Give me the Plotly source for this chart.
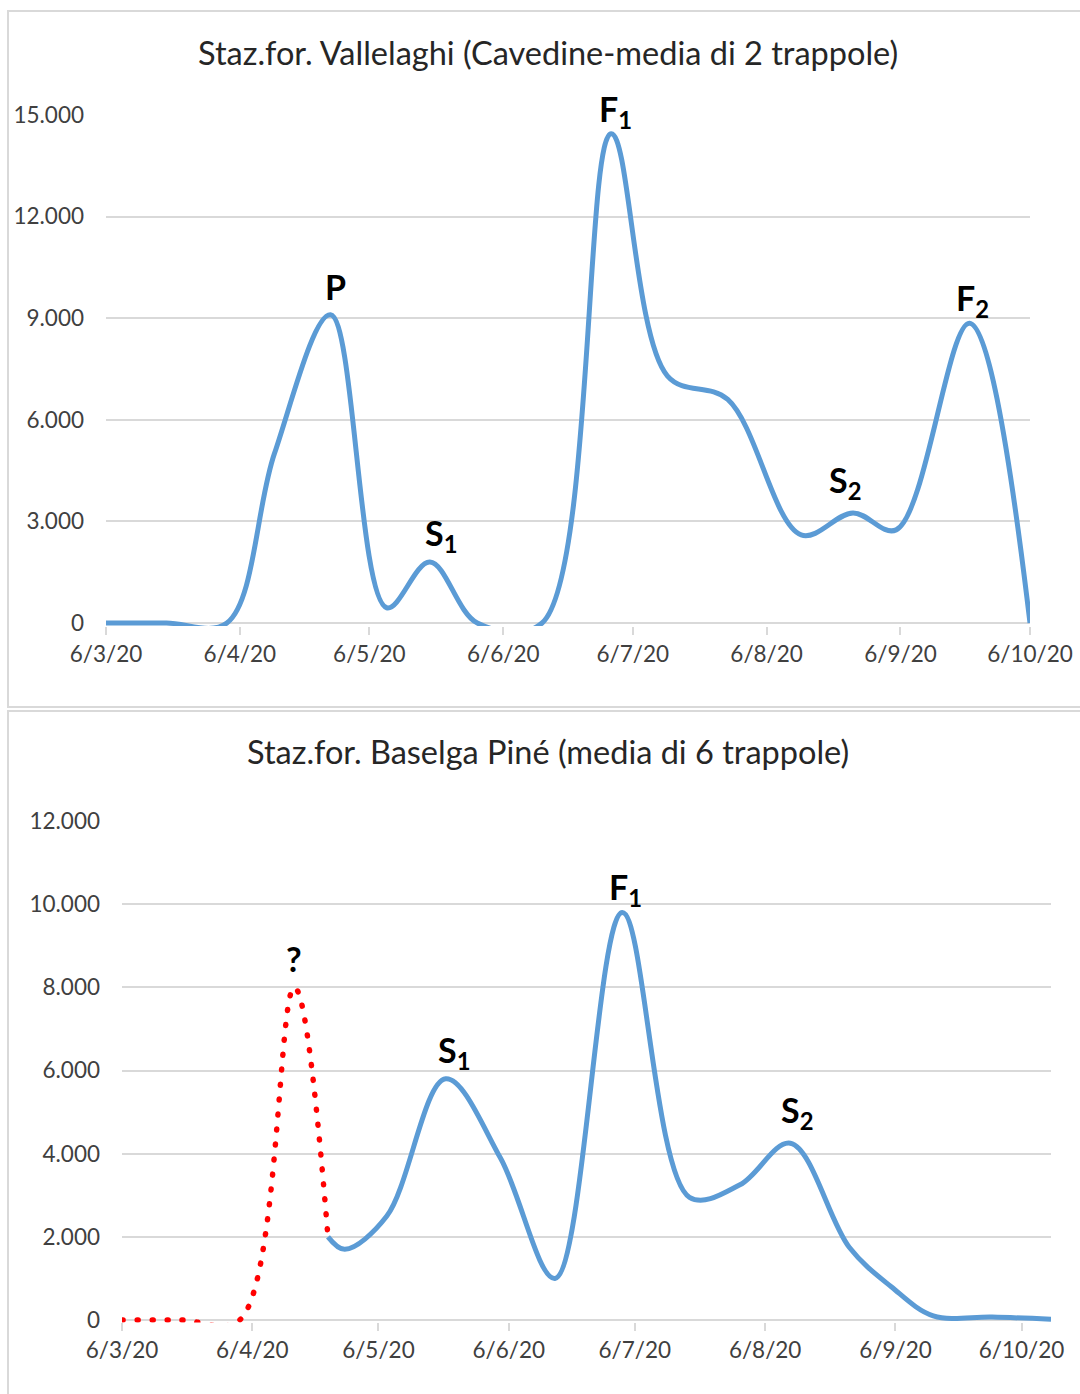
import plotly.graph_objects as go

W, H = 1080, 1394

# ---------------- data ----------------
# Top: Staz.for. Vallelaghi
top_title = "Staz.for. Vallelaghi (Cavedine-media di 2 trappole)"
top_dates = ["2020-03-06", "2020-03-20", "2020-04-03", "2020-04-14", "2020-04-27",
             "2020-05-10", "2020-05-20", "2020-05-31", "2020-06-15", "2020-07-01",
             "2020-07-14", "2020-07-28", "2020-08-14", "2020-08-26", "2020-09-05",
             "2020-09-22", "2020-10-06"]
top_values = [0, 0, 0, 5000, 9100,
              450, 1800, 0, 0, 14450,
              7300, 6600, 2600, 3250, 2750,
              8850, 0]

# Bottom: Staz.for. Baselga Piné
bot_title = "Staz.for. Baselga Piné (media di 6 trappole)"
bot_red_dates = ["2020-03-06", "2020-03-20", "2020-04-03", "2020-04-16", "2020-04-24"]
bot_red_values = [0, 0, 0, 8000, 2000]
bot_blue_dates = ["2020-04-24", "2020-04-28", "2020-05-08", "2020-05-22", "2020-06-04",
                  "2020-06-17", "2020-07-03", "2020-07-19", "2020-07-31", "2020-08-12",
                  "2020-08-26", "2020-09-05", "2020-09-15", "2020-09-29", "2020-10-13"]
bot_blue_values = [2000, 1700, 2500, 5800, 3900,
                   1000, 9800, 2950, 3250, 4250,
                   1750, 800, 100, 70, 20]

# axis ticks
x_tick_dates = ["2020-03-06", "2020-04-06", "2020-05-06", "2020-06-06",
                "2020-07-06", "2020-08-06", "2020-09-06", "2020-10-06"]
x_tick_labels = ["6/3/20", "6/4/20", "6/5/20", "6/6/20",
                 "6/7/20", "6/8/20", "6/9/20", "6/10/20"]
top_y_ticks = [0, 3000, 6000, 9000, 12000, 15000]
top_y_labels = ["0", "3.000", "6.000", "9.000", "12.000", "15.000"]
bot_y_ticks = [0, 2000, 4000, 6000, 8000, 10000, 12000]
bot_y_labels = ["0", "2.000", "4.000", "6.000", "8.000", "10.000", "12.000"]

# peak labels: (text, date, value)
top_labels = [("P", "2020-04-27", 9100), ("S<sub>1</sub>", "2020-05-20", 1800),
              ("F<sub>1</sub>", "2020-07-01", 14450), ("S<sub>2</sub>", "2020-08-26", 3250),
              ("F<sub>2</sub>", "2020-09-22", 8850)]
bot_labels = [("?", "2020-04-16", 8000), ("S<sub>1</sub>", "2020-05-22", 5800),
              ("F<sub>1</sub>", "2020-07-03", 9800), ("S<sub>2</sub>", "2020-08-12", 4250)]

# ---------------- styling ----------------
FONT = "Lato"
BLUE = "#5b9bd5"
RED = "#ff0000"
GRID = "#d9d9d9"
TXT = "#404040"
# label offsets in pixels (xshift, yshift)
top_label_off = [(5, 6), (11, 2), (4, -2), (-8, 6), (3, -2)]
bot_label_off = [(0, 6), (8, 2), (3, -2), (7, 6)]

fig = go.Figure()

fig.add_trace(go.Scatter(x=top_dates, y=top_values, mode="lines",
                         line=dict(color=BLUE, width=5, shape="spline", smoothing=1.0),
                         xaxis="x", yaxis="y", showlegend=False, hoverinfo="skip"))
fig.add_trace(go.Scatter(x=bot_red_dates, y=bot_red_values, mode="lines",
                         line=dict(color=RED, width=5.5, shape="spline", smoothing=1.0,
                                   dash="1px,14px"),
                         xaxis="x2", yaxis="y2", showlegend=False, hoverinfo="skip"))
fig.add_trace(go.Scatter(x=bot_blue_dates, y=bot_blue_values, mode="lines",
                         line=dict(color=BLUE, width=5, shape="spline", smoothing=1.0),
                         xaxis="x2", yaxis="y2", showlegend=False, hoverinfo="skip"))


def xdom(p0, p1):
    return [p0 / W, p1 / W]


def ydom(pb, pt):
    return [1 - pb / H, 1 - pt / H]


# top plot: 0 at y=623, 15000 at y=115
t_ppu = (623 - 115) / 15000
t_min = -90
b_ppu = (1320 - 821) / 12000
b_min = -60

common_x = dict(type="date", showgrid=False, zeroline=False, showline=False,
                ticks="outside", ticklen=8, tickwidth=2, tickcolor=GRID,
                tickmode="array", tickvals=x_tick_dates, ticktext=x_tick_labels,
                tickfont=dict(family=FONT, size=22.5, color=TXT), fixedrange=True,
                automargin=False)
common_y = dict(showgrid=True, gridcolor=GRID, gridwidth=2, zeroline=True,
                zerolinecolor=GRID, zerolinewidth=2, showline=False, ticks="",
                tickmode="array", tickfont=dict(family=FONT, size=22.5, color=TXT),
                ticklabelstandoff=21, fixedrange=True, automargin=False)

fig.update_layout(
    template="none",
    width=W, height=H, autosize=False,
    margin=dict(l=0, r=0, t=0, b=0, pad=0),
    paper_bgcolor="white", plot_bgcolor="white",
    xaxis=dict(common_x, domain=xdom(106, 1030), range=["2020-03-06", "2020-10-06"],
               anchor="y"),
    yaxis=dict(common_y, domain=ydom(623 - t_min * t_ppu, 115),
               range=[t_min, 15000], tickvals=top_y_ticks, ticktext=top_y_labels,
               anchor="x"),
    xaxis2=dict(common_x, domain=xdom(122, 1051), range=["2020-03-06", "2020-10-13"],
                anchor="y2"),
    yaxis2=dict(common_y, domain=ydom(1320 - b_min * b_ppu, 821),
                range=[b_min, 12000], tickvals=bot_y_ticks, ticktext=bot_y_labels,
                anchor="x2"),
)

shapes = [
    dict(type="rect", xref="paper", yref="paper", x0=8 / W, x1=1.02,
         y0=1 - 707 / H, y1=1 - 11 / H, line=dict(color=GRID, width=2)),
    dict(type="rect", xref="paper", yref="paper", x0=8 / W, x1=1.02,
         y0=-0.02, y1=1 - 711 / H, line=dict(color=GRID, width=2)),
]
fig.update_layout(shapes=shapes)

annots = [
    dict(text=top_title, xref="paper", yref="paper", x=548 / W, y=1 - 52 / H,
         xanchor="center", yanchor="middle", showarrow=False,
         font=dict(family=FONT, size=32.5, color="#262626")),
    dict(text=bot_title, xref="paper", yref="paper", x=548 / W, y=1 - 751 / H,
         xanchor="center", yanchor="middle", showarrow=False,
         font=dict(family=FONT, size=32.5, color="#262626")),
]
lab_font = dict(family=FONT, size=34, color="black")
for (txt, d, v), (dx, dy) in zip(top_labels, top_label_off):
    annots.append(dict(text="<b>" + txt + "</b>", x=d, y=v, xref="x", yref="y",
                       xanchor="center", yanchor="bottom", showarrow=False,
                       xshift=dx, yshift=dy, font=lab_font))
for (txt, d, v), (dx, dy) in zip(bot_labels, bot_label_off):
    annots.append(dict(text="<b>" + txt + "</b>", x=d, y=v, xref="x2", yref="y2",
                       xanchor="center", yanchor="bottom", showarrow=False,
                       xshift=dx, yshift=dy, font=lab_font))
fig.update_layout(annotations=annots)

post = """
document.documentElement.style.margin='0';
document.body.style.margin='0';
document.body.style.padding='0';
document.querySelectorAll('.scatterlayer path.js-line').forEach(function(p){
  var s = p.style.stroke || '';
  if (s.indexOf('255, 0, 0') >= 0) { p.style.strokeLinecap = 'round'; }
});
"""

fig.write_html("out.html", config=dict(displayModeBar=False, responsive=False),
               post_script=post)
